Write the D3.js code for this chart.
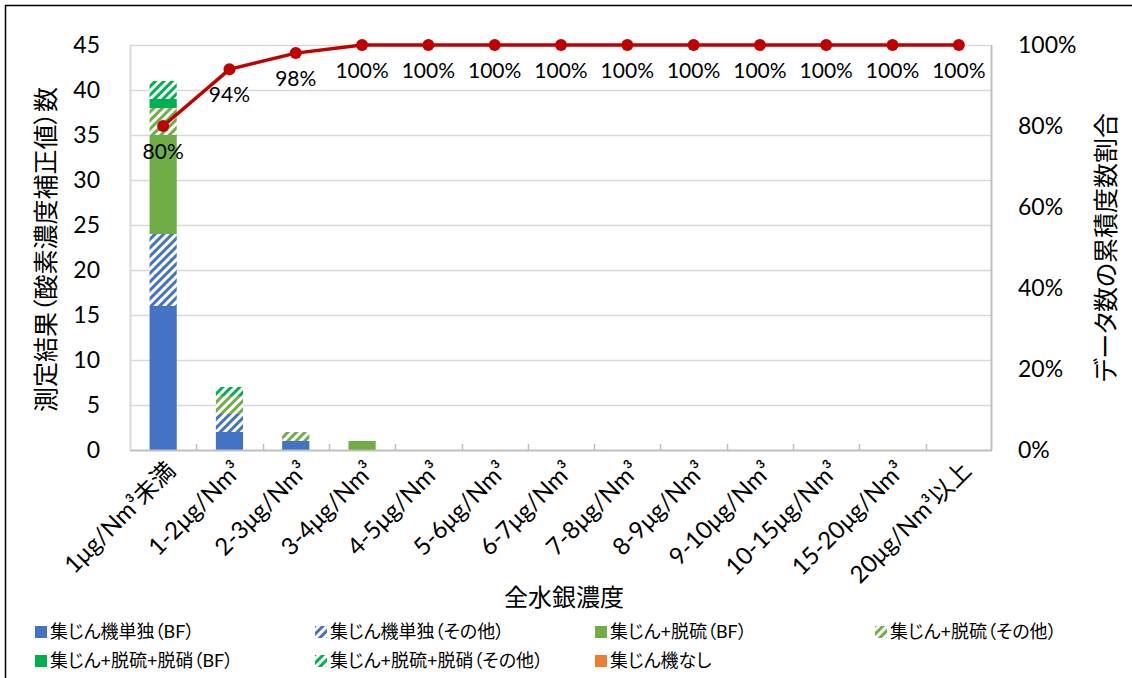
<!DOCTYPE html>
<html>
<head>
<meta charset="utf-8">
<script src="https://cdn.jsdelivr.net/npm/d3@7"></script>
<style>
  body { margin: 0; background: #fff; }
  svg text { font-family: Lato, "Noto Sans CJK JP", sans-serif; fill: #000; font-feature-settings: "palt"; }
</style>
</head>
<body>
<div id="chart"></div>
<script>
// categories (x axis)
var categories = ['1μg/Nm³未満', '1-2μg/Nm³', '2-3μg/Nm³', '3-4μg/Nm³', '4-5μg/Nm³', '5-6μg/Nm³',
	'6-7μg/Nm³', '7-8μg/Nm³', '8-9μg/Nm³', '9-10μg/Nm³', '10-15μg/Nm³', '15-20μg/Nm³', '20μg/Nm³以上'];

// stacked series
var seriesNames = ['集じん機単独（BF）', '集じん機単独（その他）', '集じん+脱硫（BF）', '集じん+脱硫（その他）',
	'集じん+脱硫+脱硝（BF）', '集じん+脱硫+脱硝（その他）', '集じん機なし'];
var bfOnly      = [16, 2, 1, 0, 0, 0, 0, 0, 0, 0, 0, 0, 0];
var otherOnly   = [8, 2, 0, 0, 0, 0, 0, 0, 0, 0, 0, 0, 0];
var desulfBF    = [11, 0, 0, 1, 0, 0, 0, 0, 0, 0, 0, 0, 0];
var desulfOther = [3, 2, 1, 0, 0, 0, 0, 0, 0, 0, 0, 0, 0];
var denoxBF     = [1, 0, 0, 0, 0, 0, 0, 0, 0, 0, 0, 0, 0];
var denoxOther  = [2, 1, 0, 0, 0, 0, 0, 0, 0, 0, 0, 0, 0];
var noCollector = [0, 0, 0, 0, 0, 0, 0, 0, 0, 0, 0, 0, 0];

// cumulative share line
var cumulative = [0.80, 0.94, 0.98, 1, 1, 1, 1, 1, 1, 1, 1, 1, 1];

var leftTicks = [0, 5, 10, 15, 20, 25, 30, 35, 40, 45];
var rightTicks = [0, 0.2, 0.4, 0.6, 0.8, 1];

var seriesData = [bfOnly, otherOnly, desulfBF, desulfOther, denoxBF, denoxOther, noCollector];
var seriesColors = ['#4472c4', '#4472c4', '#70ad47', '#70ad47', '#00b050', '#00b050', '#ed7d31'];
var seriesHatched = [false, true, false, true, false, true, false];

var width = 1132, height = 678;
var margin = {top: 45, right: 140, bottom: 228, left: 130};
var plotW = width - margin.left - margin.right;
var plotH = height - margin.top - margin.bottom;

var svg = d3.select('#chart').append('svg').attr('width', width).attr('height', height);

// hatch patterns
var defs = svg.append('defs');
seriesColors.forEach(function(c, i) {
	if (!seriesHatched[i]) return;
	var p = defs.append('pattern')
		.attr('id', 'hatch' + i)
		.attr('patternUnits', 'userSpaceOnUse')
		.attr('width', 6).attr('height', 6)
		.attr('patternTransform', 'rotate(45)');
	p.append('rect').attr('width', 6).attr('height', 6).attr('fill', '#fff');
	p.append('rect').attr('width', 3).attr('height', 6).attr('fill', c);
});
function fillFor(i) { return seriesHatched[i] ? 'url(#hatch' + i + ')' : seriesColors[i]; }

// outer chart border (only top/left visible in reference)
svg.append('rect').attr('x', 5.5).attr('y', 5.5).attr('width', 1140).attr('height', 700)
	.attr('fill', 'none').attr('stroke', '#000').attr('stroke-width', 1.5);

var g = svg.append('g').attr('transform', 'translate(' + margin.left + ',' + margin.top + ')');

var x = d3.scaleBand().domain(categories).range([0, plotW]).paddingInner(0.59).paddingOuter(0.295);
var y = d3.scaleLinear().domain([0, 45]).range([plotH, 0]);
var y2 = d3.scaleLinear().domain([0, 1]).range([plotH, 0]);

// gridlines
g.append('g').selectAll('line').data(leftTicks.filter(function(d) { return d > 0; })).join('line')
	.attr('x1', 0).attr('x2', plotW)
	.attr('y1', function(d) { return Math.round(y(d)) + 0.5; })
	.attr('y2', function(d) { return Math.round(y(d)) + 0.5; })
	.attr('stroke', '#d9d9d9').attr('stroke-width', 1.5);

// stacked bars
var rows = categories.map(function(c, i) {
	var r = {cat: c};
	seriesData.forEach(function(s, k) { r['s' + k] = s[i]; });
	return r;
});
var stack = d3.stack().keys(seriesData.map(function(s, k) { return 's' + k; }))(rows);
g.append('g').selectAll('g').data(stack).join('g')
	.attr('fill', function(d, k) { return fillFor(k); })
	.selectAll('rect').data(function(d) { return d; }).join('rect')
		.attr('x', function(d) { return x(d.data.cat); })
		.attr('width', x.bandwidth())
		.attr('y', function(d) { return y(d[1]); })
		.attr('height', function(d) { return y(d[0]) - y(d[1]); });

// axis lines
var axisColor = '#bfbfbf';
g.append('line').attr('x1', 0).attr('x2', plotW).attr('y1', plotH + 0.5).attr('y2', plotH + 0.5)
	.attr('stroke', axisColor).attr('stroke-width', 2);
g.append('line').attr('x1', 0.5).attr('x2', 0.5).attr('y1', 0).attr('y2', plotH)
	.attr('stroke', '#d9d9d9').attr('stroke-width', 2);
g.append('line').attr('x1', plotW - 0.5).attr('x2', plotW - 0.5).attr('y1', 0).attr('y2', plotH)
	.attr('stroke', axisColor).attr('stroke-width', 2);

// category tick marks
var step = x.step();
g.append('g').selectAll('line').data(d3.range(1, categories.length)).join('line')
	.attr('x1', function(i) { return Math.round(i * step) + 0.5; })
	.attr('x2', function(i) { return Math.round(i * step) + 0.5; })
	.attr('y1', plotH).attr('y2', plotH - 6)
	.attr('stroke', axisColor).attr('stroke-width', 1.5);

// left axis labels
g.append('g').selectAll('text').data(leftTicks).join('text')
	.attr('x', -30).attr('y', function(d) { return y(d); })
	.attr('dy', '0.35em').attr('text-anchor', 'end')
	.attr('font-size', 23).text(function(d) { return d; });

// right axis labels
g.append('g').selectAll('text').data(rightTicks).join('text')
	.attr('x', plotW + 26).attr('y', function(d) { return y2(d); })
	.attr('dy', '0.35em').attr('text-anchor', 'start')
	.attr('font-size', 23).text(function(d) { return Math.round(d * 100) + '%'; });

// x labels
g.append('g').selectAll('text').data(categories).join('text')
	.attr('transform', function(d) {
		return 'translate(' + (x(d) + x.bandwidth() / 2 + 8) + ',' + (plotH + 16) + ') rotate(-45)';
	})
	.attr('text-anchor', 'end').attr('dy', '0.35em')
	.attr('font-size', 24).text(function(d) { return d; });

// cumulative line
var cx = function(i) { return x(categories[i]) + x.bandwidth() / 2; };
g.append('path').datum(cumulative)
	.attr('fill', 'none').attr('stroke', '#c00000').attr('stroke-width', 3.5)
	.attr('d', d3.line().x(function(d, i) { return cx(i); }).y(function(d) { return y2(d); }));
g.append('g').selectAll('circle').data(cumulative).join('circle')
	.attr('cx', function(d, i) { return cx(i); })
	.attr('cy', function(d) { return y2(d); })
	.attr('r', 6).attr('fill', '#c00000');
g.append('g').selectAll('text').data(cumulative).join('text')
	.attr('x', function(d, i) { return cx(i); })
	.attr('y', function(d) { return y2(d) + 33; })
	.attr('text-anchor', 'middle').attr('font-size', 21)
	.text(function(d) { return Math.round(d * 100) + '%'; });

// axis titles
svg.append('text').attr('transform', 'translate(46,' + (margin.top + plotH / 2 + 2) + ') rotate(-90)')
	.attr('text-anchor', 'middle').attr('dy', '0.35em').attr('font-size', 25)
	.text('測定結果（酸素濃度補正値）数');
svg.append('text').attr('transform', 'translate(1106,' + (margin.top + plotH / 2) + ') rotate(-90)')
	.attr('text-anchor', 'middle').attr('dy', '0.35em').attr('font-size', 25)
	.text('データ数の累積度数割合');
svg.append('text').attr('x', margin.left + plotW / 2 + 3).attr('y', 598)
	.attr('text-anchor', 'middle').attr('dy', '0.35em').attr('font-size', 24)
	.text('全水銀濃度');

// legend
var legendPos = [[35, 632], [315, 632], [595, 632], [875, 632], [35, 661], [315, 661], [595, 661]];
var legend = svg.append('g').selectAll('g').data(seriesNames).join('g')
	.attr('transform', function(d, i) { return 'translate(' + legendPos[i][0] + ',' + legendPos[i][1] + ')'; });
legend.append('rect').attr('x', 0).attr('y', -6).attr('width', 12).attr('height', 12)
	.attr('fill', function(d, i) { return fillFor(i); });
legend.append('text').attr('x', 15).attr('dy', '0.35em').attr('font-size', 18)
	.text(function(d) { return d; });
</script>
</body>
</html>
